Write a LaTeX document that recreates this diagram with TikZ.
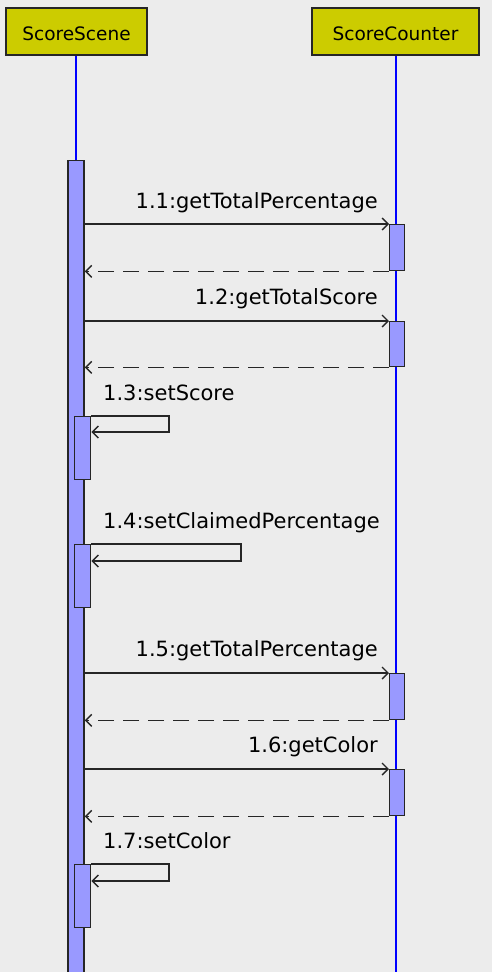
\documentclass[tikz,border=0pt]{standalone}
\usepackage{fontspec}
\setmainfont{DejaVu Sans}
\usetikzlibrary{arrows.meta,calc}
\definecolor{bg}{HTML}{ECECEC}
\definecolor{hdr}{HTML}{CCCC00}
\definecolor{act}{HTML}{9999FF}
\definecolor{life}{HTML}{0000FF}
\tikzset{
  header/.style={draw=black!85,line width=1.6pt,fill=hdr,inner sep=0pt},
  actbox/.style={draw=black!85,line width=1.4pt,fill=act,inner sep=0pt,rectangle},
  lifeline/.style={life,line width=1.3pt},
  msg/.style={black!85,line width=1.5pt,-{Straight Barb[length=6pt,width=12pt,line width=1.4pt]}},
  ret/.style={msg,dash pattern=on 16pt off 9pt},
  lbl/.style={inner sep=0pt,font=\fontsize{21}{23}\selectfont},
  hlbl/.style={inner sep=0pt,font=\fontsize{18.5}{21}\selectfont},
}
\begin{document}
\begin{tikzpicture}[x=1pt,y=-1pt]
\fill[bg] (0,0) rectangle (492,972);
\useasboundingbox (0,0) rectangle (492,972);
% headers
\node[header,minimum width=141pt,minimum height=47pt] (hA) at (76.5,31.5) {};
\node[hlbl,anchor=base] (tA) at (76.5,40) {ScoreScene};
\node[header,minimum width=167pt,minimum height=47pt] (hB) at (395.5,31.5) {};
\node[hlbl,anchor=base] (tB) at (395.5,40) {ScoreCounter};
% lifelines
\coordinate (endA) at (76,972);
\coordinate (endB) at (396,975);
\draw[lifeline] (hA.south -| endA) -- (endA);
\draw[lifeline] (hB.south -| endB) -- (endB);
% main activation
\node[actbox,minimum width=16pt,minimum height=822pt,anchor=north] (m) at (76,160) {};
% counter activations
\node[actbox,minimum width=15pt,minimum height=46pt,anchor=north west] (r1) at (389,224) {};
\node[actbox,minimum width=15pt,minimum height=45pt,anchor=north west] (r2) at (389,321) {};
\node[actbox,minimum width=15pt,minimum height=46pt,anchor=north west] (r5) at (389,673) {};
\node[actbox,minimum width=15pt,minimum height=46pt,anchor=north west] (r6) at (389,769) {};
% self activations
\node[actbox,minimum width=16pt,minimum height=63pt,anchor=north west] (s3) at (74,416) {};
\node[actbox,minimum width=16pt,minimum height=63pt,anchor=north west] (s4) at (74,544) {};
\node[actbox,minimum width=16pt,minimum height=63pt,anchor=north west] (s7) at (74,864) {};
% messages 1.1
\node[lbl,anchor=base east] (l1) at (378,208) {1.1:getTotalPercentage};
\draw[msg] (r1.north west -| m.east) -- (r1.north west);
\draw[ret] (r1.south west) -- (r1.south west -| m.east);
% 1.2
\node[lbl,anchor=base east] (l2) at (378,304) {1.2:getTotalScore};
\draw[msg] (r2.north west -| m.east) -- (r2.north west);
\draw[ret] (r2.south west) -- (r2.south west -| m.east);
% 1.3
\node[lbl,anchor=base west] (l3) at (103,400) {1.3:setScore};
\coordinate (c3) at (169,432);
\draw[msg] (s3.north east) -| (c3) -- (c3 -| s3.east);
% 1.4
\node[lbl,anchor=base west] (l4) at (103,528) {1.4:setClaimedPercentage};
\coordinate (c4) at (241,561);
\draw[msg] (s4.north east) -| (c4) -- (c4 -| s4.east);
% 1.5
\node[lbl,anchor=base east] (l5) at (378,656) {1.5:getTotalPercentage};
\draw[msg] (r5.north west -| m.east) -- (r5.north west);
\draw[ret] (r5.south west) -- (r5.south west -| m.east);
% 1.6
\node[lbl,anchor=base east] (l6) at (378,752) {1.6:getColor};
\draw[msg] (r6.north west -| m.east) -- (r6.north west);
\draw[ret] (r6.south west) -- (r6.south west -| m.east);
% 1.7
\node[lbl,anchor=base west] (l7) at (103,848) {1.7:setColor};
\coordinate (c7) at (169,881);
\draw[msg] (s7.north east) -| (c7) -- (c7 -| s7.east);
\end{tikzpicture}
\end{document}
